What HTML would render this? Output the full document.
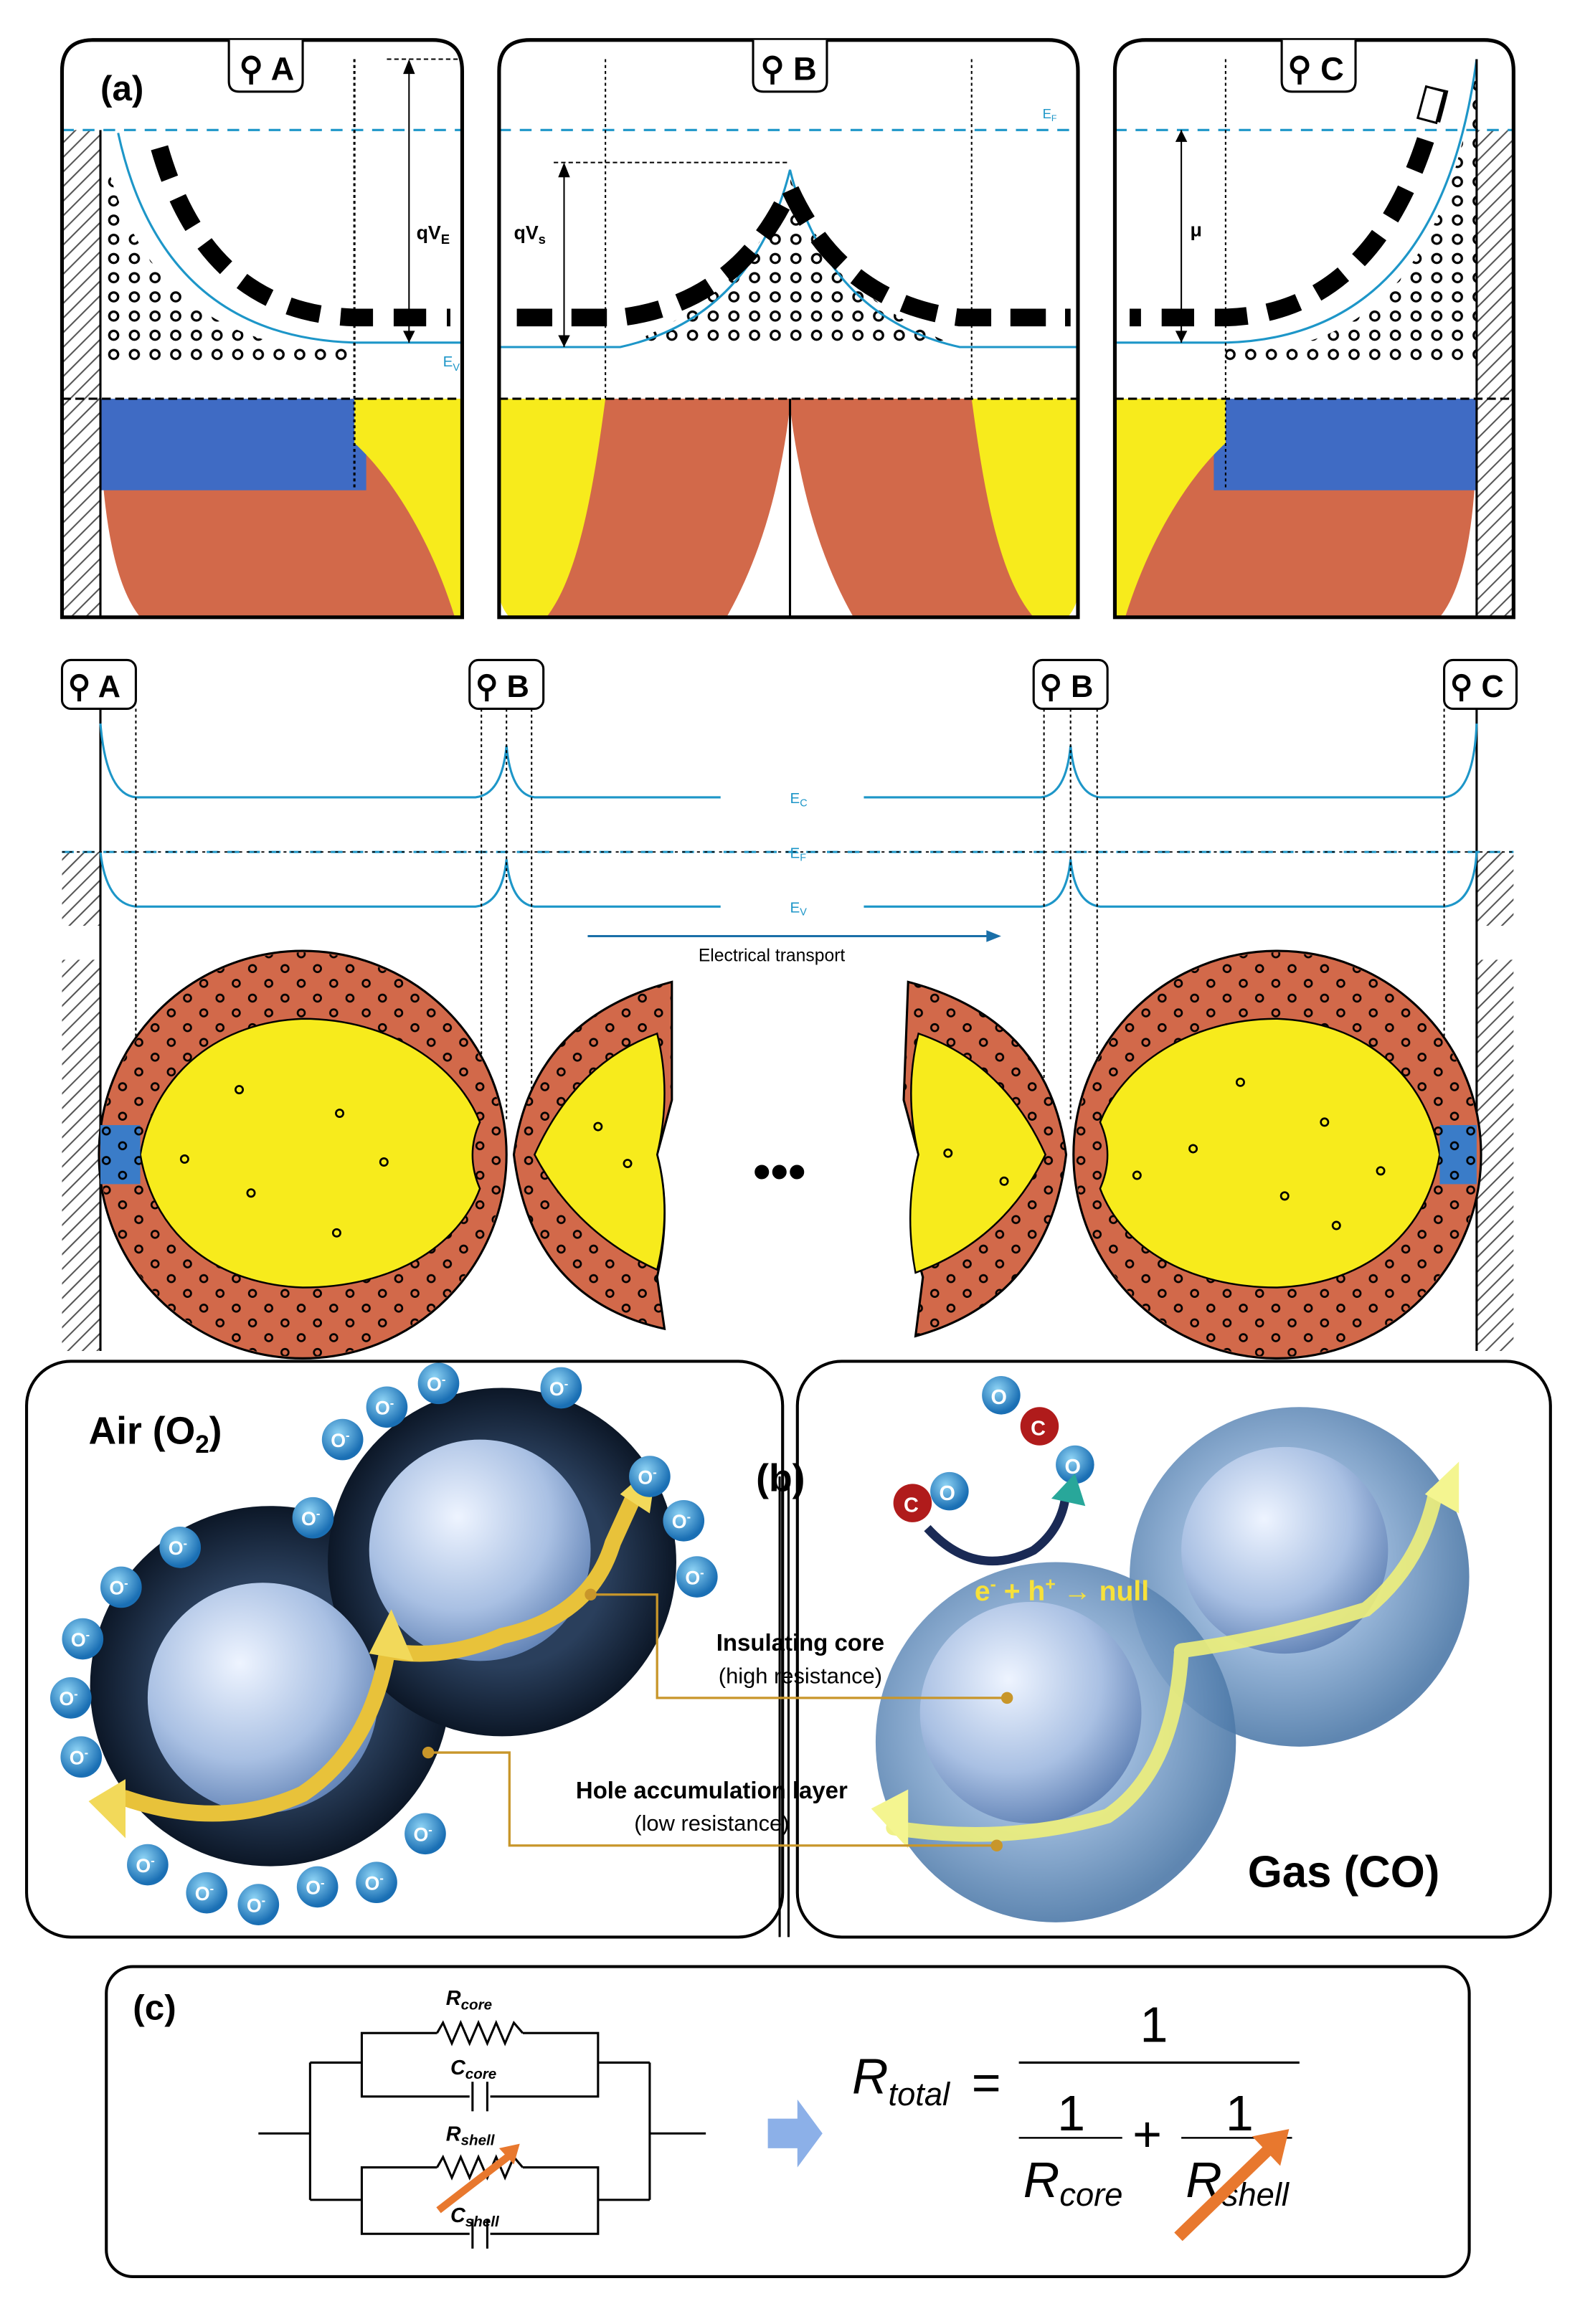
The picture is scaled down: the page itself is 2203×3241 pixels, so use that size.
<!DOCTYPE html>
<html><head><meta charset="utf-8"><style>
html,body{margin:0;padding:0;background:#fff;}
svg{display:block;}
text{font-family:"Liberation Sans",sans-serif;}
</style></head><body>
<svg width="2203" height="3241" viewBox="0 0 1070 1574" xmlns="http://www.w3.org/2000/svg">
<defs>
<pattern id="hatch" width="7" height="7" patternUnits="userSpaceOnUse" patternTransform="rotate(45)">
<rect width="7" height="7" fill="#fff"/><line x1="0" y1="0" x2="0" y2="7" stroke="#555" stroke-width="2"/></pattern>
<pattern id="dots" width="14" height="13" patternUnits="userSpaceOnUse">
<circle cx="7" cy="6" r="3" fill="#fff" stroke="#000" stroke-width="1.6"/></pattern>
<pattern id="dots2" width="22" height="20" patternUnits="userSpaceOnUse">
<circle cx="6" cy="6" r="2.4" fill="none" stroke="#000" stroke-width="1.3"/><circle cx="17" cy="16" r="2.4" fill="none" stroke="#000" stroke-width="1.3"/></pattern>
<radialGradient id="core" cx="0.4" cy="0.35" r="0.7"><stop offset="0" stop-color="#eef4ff"/><stop offset="0.6" stop-color="#a9c0e3"/><stop offset="1" stop-color="#5d7fb3"/></radialGradient>
<radialGradient id="dark" cx="0.5" cy="0.5" r="0.5"><stop offset="0.6" stop-color="#2a3f5c"/><stop offset="1" stop-color="#0c1727"/></radialGradient>
<radialGradient id="shell" cx="0.45" cy="0.45" r="0.55"><stop offset="0.5" stop-color="#8fb0d6"/><stop offset="1" stop-color="#4d79a8"/></radialGradient>
<radialGradient id="ion" cx="0.4" cy="0.35" r="0.6"><stop offset="0" stop-color="#8fd4f5"/><stop offset="1" stop-color="#1a6fb4"/></radialGradient>
</defs>
<rect width="1070" height="1574" fill="#fff"/>

<!-- ===== Box A ===== -->
<g>
<path d="M68,300 H313 V418 H95 Q72,390 68,300 Z" fill="#d2694a"/>
<rect x="68" y="270" width="180" height="62" fill="#3f6bc4"/>
<path d="M240,270 H313 V418 H308 C290,360 262,320 240,300 Z" fill="#f7eb1c"/>
<rect x="42" y="88" width="26" height="330" fill="url(#hatch)"/>
<path d="M68,90 Q90,215 200,235 L240,235 L240,245 L68,245 Z" fill="url(#dots)"/>
<path d="M80,90 Q110,228 240,232 L313,232" fill="none" stroke="#1d96c8" stroke-width="1.5"/>
<path d="M108,100 Q140,212 240,215 L305,215" fill="none" stroke="#000" stroke-width="12" stroke-dasharray="22 14"/>
<line x1="42" y1="88" x2="313" y2="88" stroke="#1d96c8" stroke-width="1.5" stroke-dasharray="8 6"/>
<line x1="42" y1="270" x2="313" y2="270" stroke="#000" stroke-width="1.5" stroke-dasharray="6 3"/>
<line x1="262" y1="40" x2="313" y2="40" stroke="#000" stroke-dasharray="3 2"/>
<line x1="240" y1="40" x2="240" y2="332" stroke="#000" stroke-width="1.5" stroke-dasharray="2 2"/>
<line x1="68" y1="88" x2="68" y2="418" stroke="#000" stroke-width="1.5"/>
<line x1="277" y1="42" x2="277" y2="232" stroke="#000"/>
<path d="M273,50 L277,40 L281,50Z M273,224 L277,232 L281,224Z"/>
<text x="282" y="162" font-size="13" font-weight="bold">qV<tspan font-size="9" dy="3">E</tspan></text>
<text x="300" y="248" font-size="10" fill="#1d96c8">E<tspan font-size="7" dy="3">V</tspan></text>
<path d="M42,418 V48 Q42,27 63,27 H293 Q313,27 313,48 V418 Z" fill="none" stroke="#000" stroke-width="2.5"/>
<path d="M155,27 V55 Q155,62 162,62 H198 Q205,62 205,55 V27" fill="#fff" stroke="#000" stroke-width="1.5"/>
<text x="162" y="54" font-size="22" font-weight="bold">⚲ A</text>
<text x="68" y="68" font-size="24" font-weight="bold">(a)</text>
</g>

<!-- ===== Box B ===== -->
<g>
<path d="M338,270 H730 V400 Q725,418 710,418 H578 Q545,360 535,275 Q525,360 492,418 H358 Q340,415 338,400 Z" fill="#d2694a"/>
<path d="M338,270 H410 C402,330 392,390 370,418 H345 Q338,410 338,400 Z" fill="#f7eb1c"/>
<path d="M730,270 H658 C666,330 676,390 700,418 H723 Q730,410 730,400 Z" fill="#f7eb1c"/>
<line x1="535" y1="270" x2="535" y2="418" stroke="#000" stroke-width="1.5"/>
<path d="M420,235 Q510,200 535,120 Q560,200 650,235 Z" fill="url(#dots)"/>
<path d="M338,235 H420 Q510,215 535,115 Q560,215 650,235 H730" fill="none" stroke="#1d96c8" stroke-width="1.5"/>
<path d="M350,215 H420 Q500,205 535,128 Q570,205 650,215 H725" fill="none" stroke="#000" stroke-width="12" stroke-dasharray="24 13"/>
<line x1="338" y1="88" x2="730" y2="88" stroke="#1d96c8" stroke-width="1.5" stroke-dasharray="8 6"/>
<line x1="338" y1="270" x2="730" y2="270" stroke="#000" stroke-width="1.5" stroke-dasharray="6 3"/>
<line x1="410" y1="40" x2="410" y2="270" stroke="#000" stroke-dasharray="2 2"/>
<line x1="658" y1="40" x2="658" y2="270" stroke="#000" stroke-dasharray="2 2"/>
<line x1="375" y1="110" x2="535" y2="110" stroke="#000" stroke-dasharray="3 2"/>
<line x1="382" y1="112" x2="382" y2="235" stroke="#000"/>
<path d="M378,120 L382,110 L386,120Z M378,227 L382,235 L386,227Z"/>
<text x="348" y="162" font-size="13" font-weight="bold">qV<tspan font-size="9" dy="3">s</tspan></text>
<text x="706" y="80" font-size="9" fill="#1d96c8">E<tspan font-size="6" dy="2">F</tspan></text>
<path d="M338,418 V48 Q338,27 359,27 H710 Q730,27 730,48 V418 Z" fill="none" stroke="#000" stroke-width="2.5"/>
<path d="M510,27 V55 Q510,62 517,62 H553 Q560,62 560,55 V27" fill="#fff" stroke="#000" stroke-width="1.5"/>
<text x="515" y="54" font-size="22" font-weight="bold">⚲ B</text>
</g>

<!-- ===== Box C ===== -->
<g>
<path d="M1000,300 H755 V418 H975 Q998,390 1000,300 Z" fill="#d2694a"/>
<rect x="822" y="270" width="178" height="62" fill="#3f6bc4"/>
<path d="M830,270 H755 V418 H762 C780,360 808,320 830,300 Z" fill="#f7eb1c"/>
<rect x="1000" y="88" width="25" height="330" fill="url(#hatch)"/>
<path d="M1000,40 Q980,215 870,235 L830,235 L830,245 L1000,245 Z" fill="url(#dots)"/>
<path d="M1000,40 Q975,228 830,232 L755,232" fill="none" stroke="#1d96c8" stroke-width="1.5"/>
<path d="M975,60 Q940,212 830,215 L765,215" fill="none" stroke="#000" stroke-width="12" stroke-dasharray="22 14"/>
<rect x="963" y="60" width="13" height="22" fill="#fff" stroke="#000" stroke-width="1.5" transform="rotate(15 970 70)"/>
<line x1="755" y1="88" x2="1025" y2="88" stroke="#1d96c8" stroke-width="1.5" stroke-dasharray="8 6"/>
<line x1="755" y1="270" x2="1025" y2="270" stroke="#000" stroke-width="1.5" stroke-dasharray="6 3"/>
<line x1="830" y1="40" x2="830" y2="332" stroke="#000" stroke-dasharray="2 2"/>
<line x1="1000" y1="40" x2="1000" y2="418" stroke="#000" stroke-width="1.5"/>
<line x1="800" y1="88" x2="800" y2="232" stroke="#000"/>
<path d="M796,96 L800,88 L804,96Z M796,224 L800,232 L804,224Z"/>
<text x="806" y="160" font-size="13" font-weight="bold">μ</text>
<path d="M755,418 V48 Q755,27 776,27 H1005 Q1025,27 1025,48 V418 Z" fill="none" stroke="#000" stroke-width="2.5"/>
<path d="M868,27 V55 Q868,62 875,62 H911 Q918,62 918,55 V27" fill="#fff" stroke="#000" stroke-width="1.5"/>
<text x="872" y="54" font-size="22" font-weight="bold">⚲ C</text>
</g>

<!-- ===== Middle section ===== -->
<g>
<rect x="42" y="577" width="26" height="50" fill="url(#hatch)"/>
<rect x="42" y="650" width="26" height="265" fill="url(#hatch)"/>
<rect x="1000" y="577" width="25" height="50" fill="url(#hatch)"/>
<rect x="1000" y="650" width="25" height="265" fill="url(#hatch)"/>
<line x1="68" y1="470" x2="68" y2="915" stroke="#000" stroke-width="1.5"/>
<line x1="1000" y1="470" x2="1000" y2="915" stroke="#000" stroke-width="1.5"/>
<g fill="none" stroke="#1d96c8" stroke-width="1.5">
<path d="M68,490 Q72,538 92,540 H322 Q340,538 343,505 Q346,538 362,540 H488"/>
<path d="M585,540 H705 Q722,538 725,505 Q728,538 745,540 H978 Q998,538 1000,490"/>
<path d="M68,577 Q72,612 92,614 H322 Q340,612 343,582 Q346,612 362,614 H488"/>
<path d="M585,614 H705 Q722,612 725,582 Q728,612 745,614 H978 Q998,612 1000,577"/>
<line x1="42" y1="577" x2="1025" y2="577" stroke-dasharray="8 6"/>
</g>
<line x1="42" y1="577" x2="1025" y2="577" stroke="#000" stroke-dasharray="2 3" stroke-width="0.8"/>
<text x="535" y="544" font-size="10" fill="#1d96c8">E<tspan font-size="7" dy="2">C</tspan></text>
<text x="535" y="581" font-size="10" fill="#1d96c8">E<tspan font-size="7" dy="2">F</tspan></text>
<text x="535" y="618" font-size="10" fill="#1d96c8">E<tspan font-size="7" dy="2">V</tspan></text>
<line x1="398" y1="634" x2="672" y2="634" stroke="#1a6fa8" stroke-width="1.5"/>
<path d="M668,630 L678,634 L668,638Z" fill="#1a6fa8"/>
<text x="473" y="651" font-size="12">Electrical transport</text>
<g stroke="#000" stroke-dasharray="2 2">
<line x1="92" y1="480" x2="92" y2="760"/>
<line x1="326" y1="480" x2="326" y2="760"/><line x1="343" y1="480" x2="343" y2="760"/><line x1="360" y1="480" x2="360" y2="760"/>
<line x1="707" y1="480" x2="707" y2="760"/><line x1="725" y1="480" x2="725" y2="760"/><line x1="743" y1="480" x2="743" y2="760"/>
<line x1="978" y1="480" x2="978" y2="760"/>
</g>
<!-- left big grain -->
<circle cx="205" cy="782" r="138" fill="#d2694a" stroke="#000" stroke-width="1.5"/>
<circle cx="205" cy="782" r="137" fill="url(#dots2)"/>
<path d="M95,782 C105,725 150,692 205,690 C265,690 310,722 325,760 Q315,782 325,805 C310,845 265,872 205,872 C150,870 105,840 95,782 Z" fill="#f7eb1c" stroke="#000" stroke-width="1.2"/>
<rect x="68" y="762" width="27" height="40" fill="#3a7cc8"/>
<rect x="68" y="762" width="27" height="40" fill="url(#dots2)"/>
<g fill="none" stroke="#000" stroke-width="1.3"><circle cx="162" cy="738" r="2.5"/><circle cx="230" cy="754" r="2.5"/><circle cx="125" cy="785" r="2.5"/><circle cx="260" cy="787" r="2.5"/><circle cx="170" cy="808" r="2.5"/><circle cx="228" cy="835" r="2.5"/></g>
<!-- partial grains -->
<path d="M455,665 Q360,690 348,782 Q360,880 450,900 L445,865 Q455,820 445,782 L455,745 Z" fill="#d2694a" stroke="#000" stroke-width="1.5"/>
<path d="M455,665 Q360,690 348,782 Q360,880 450,900 L445,865 Q455,820 445,782 L455,745 Z" fill="url(#dots2)"/>
<path d="M445,700 Q390,720 362,782 Q390,835 445,860 Q455,820 445,782 Q455,740 445,700 Z" fill="#f7eb1c" stroke="#000" stroke-width="1.2"/>
<path d="M615,665 Q710,690 722,782 Q710,880 620,905 L625,865 Q612,820 622,782 L612,745 Z" fill="#d2694a" stroke="#000" stroke-width="1.5"/>
<path d="M615,665 Q710,690 722,782 Q710,880 620,905 L625,865 Q612,820 622,782 L612,745 Z" fill="url(#dots2)"/>
<path d="M622,700 Q680,720 708,782 Q680,840 620,862 Q612,820 622,782 Q612,740 622,700 Z" fill="#f7eb1c" stroke="#000" stroke-width="1.2"/>
<g fill="none" stroke="#000" stroke-width="1.3"><circle cx="405" cy="763" r="2.5"/><circle cx="425" cy="788" r="2.5"/><circle cx="642" cy="781" r="2.5"/><circle cx="680" cy="800" r="2.5"/></g>
<text x="510" y="805" font-size="34" font-weight="bold">•••</text>
<!-- right big grain -->
<circle cx="865" cy="782" r="138" fill="#d2694a" stroke="#000" stroke-width="1.5"/>
<circle cx="865" cy="782" r="137" fill="url(#dots2)"/>
<path d="M975,782 C965,725 920,692 865,690 C805,690 760,722 745,760 Q755,782 745,805 C760,845 805,872 865,872 C920,870 965,840 975,782 Z" fill="#f7eb1c" stroke="#000" stroke-width="1.2"/>
<rect x="975" y="762" width="25" height="40" fill="#3a7cc8"/>
<rect x="975" y="762" width="25" height="40" fill="url(#dots2)"/>
<g fill="none" stroke="#000" stroke-width="1.3"><circle cx="840" cy="733" r="2.5"/><circle cx="808" cy="778" r="2.5"/><circle cx="897" cy="760" r="2.5"/><circle cx="770" cy="796" r="2.5"/><circle cx="870" cy="810" r="2.5"/><circle cx="905" cy="830" r="2.5"/><circle cx="935" cy="793" r="2.5"/></g>
<!-- tabs -->
<g fill="#fff" stroke="#000" stroke-width="1.5">
<rect x="42" y="447" width="50" height="33" rx="6"/><rect x="318" y="447" width="50" height="33" rx="6"/>
<rect x="700" y="447" width="50" height="33" rx="6"/><rect x="978" y="447" width="49" height="33" rx="6"/></g>
<g font-size="21" font-weight="bold"><text x="46" y="472">⚲ A</text><text x="322" y="472">⚲ B</text><text x="704" y="472">⚲ B</text><text x="982" y="472">⚲ C</text></g>
</g>

<!-- ===== Panel (b) ===== -->
<g>
<rect x="18" y="922" width="512" height="390" rx="30" fill="#fff" stroke="#000" stroke-width="2"/>
<rect x="540" y="922" width="510" height="390" rx="30" fill="#fff" stroke="#000" stroke-width="2"/>
<line x1="528" y1="1000" x2="528" y2="1312" stroke="#000" stroke-width="1.5"/>
<line x1="534" y1="1000" x2="534" y2="1312" stroke="#000" stroke-width="1.5"/>
<text x="60" y="978" font-size="26" font-weight="bold">Air (O<tspan font-size="17" dy="6">2</tspan><tspan dy="-6">)</tspan></text>
<text x="512" y="1010" font-size="26" font-weight="bold">(b)</text>
<!-- left spheres -->
<circle cx="183" cy="1142" r="122" fill="url(#dark)"/>
<circle cx="340" cy="1058" r="118" fill="url(#dark)"/>
<circle cx="178" cy="1150" r="78" fill="url(#core)"/>
<circle cx="325" cy="1050" r="75" fill="url(#core)"/>
<g fill="none" stroke="#e8c23a" stroke-width="11" stroke-linecap="round">
<path d="M85,1218 Q150,1240 205,1215 Q250,1185 262,1120"/>
<path d="M262,1118 Q300,1125 340,1108 Q400,1095 415,1045 L430,1012"/>
</g>
<g fill="#f2d95a"><path d="M250,1120 L265,1090 L280,1125Z"/><path d="M420,1012 L445,990 L440,1025Z"/><path d="M60,1220 L85,1205 L85,1245Z"/></g>
<g font-size="13" font-weight="bold" fill="#fff">
<circle cx="297" cy="937" r="14" fill="url(#ion)"/><text x="289" y="942">O<tspan font-size="8" dy="-5">-</tspan></text>
<circle cx="380" cy="940" r="14" fill="url(#ion)"/><text x="372" y="945">O<tspan font-size="8" dy="-5">-</tspan></text>
<circle cx="262" cy="953" r="14" fill="url(#ion)"/><text x="254" y="958">O<tspan font-size="8" dy="-5">-</tspan></text>
<circle cx="232" cy="975" r="14" fill="url(#ion)"/><text x="224" y="980">O<tspan font-size="8" dy="-5">-</tspan></text>
<circle cx="212" cy="1028" r="14" fill="url(#ion)"/><text x="204" y="1033">O<tspan font-size="8" dy="-5">-</tspan></text>
<circle cx="122" cy="1048" r="14" fill="url(#ion)"/><text x="114" y="1053">O<tspan font-size="8" dy="-5">-</tspan></text>
<circle cx="82" cy="1075" r="14" fill="url(#ion)"/><text x="74" y="1080">O<tspan font-size="8" dy="-5">-</tspan></text>
<circle cx="56" cy="1110" r="14" fill="url(#ion)"/><text x="48" y="1115">O<tspan font-size="8" dy="-5">-</tspan></text>
<circle cx="48" cy="1150" r="14" fill="url(#ion)"/><text x="40" y="1155">O<tspan font-size="8" dy="-5">-</tspan></text>
<circle cx="55" cy="1190" r="14" fill="url(#ion)"/><text x="47" y="1195">O<tspan font-size="8" dy="-5">-</tspan></text>
<circle cx="100" cy="1263" r="14" fill="url(#ion)"/><text x="92" y="1268">O<tspan font-size="8" dy="-5">-</tspan></text>
<circle cx="140" cy="1282" r="14" fill="url(#ion)"/><text x="132" y="1287">O<tspan font-size="8" dy="-5">-</tspan></text>
<circle cx="175" cy="1290" r="14" fill="url(#ion)"/><text x="167" y="1295">O<tspan font-size="8" dy="-5">-</tspan></text>
<circle cx="215" cy="1278" r="14" fill="url(#ion)"/><text x="207" y="1283">O<tspan font-size="8" dy="-5">-</tspan></text>
<circle cx="255" cy="1275" r="14" fill="url(#ion)"/><text x="247" y="1280">O<tspan font-size="8" dy="-5">-</tspan></text>
<circle cx="288" cy="1242" r="14" fill="url(#ion)"/><text x="280" y="1247">O<tspan font-size="8" dy="-5">-</tspan></text>
<circle cx="440" cy="1000" r="14" fill="url(#ion)"/><text x="432" y="1005">O<tspan font-size="8" dy="-5">-</tspan></text>
<circle cx="463" cy="1030" r="14" fill="url(#ion)"/><text x="455" y="1035">O<tspan font-size="8" dy="-5">-</tspan></text>
<circle cx="472" cy="1068" r="14" fill="url(#ion)"/><text x="464" y="1073">O<tspan font-size="8" dy="-5">-</tspan></text>
</g>
<!-- right spheres -->
<circle cx="880" cy="1068" r="115" fill="url(#shell)" opacity="0.9"/>
<circle cx="715" cy="1180" r="122" fill="url(#shell)" opacity="0.9"/>
<circle cx="870" cy="1050" r="70" fill="url(#core)"/>
<circle cx="698" cy="1160" r="75" fill="url(#core)"/>
<g fill="none" stroke="#eef07a" stroke-width="10" stroke-linecap="round" opacity="0.9">
<path d="M605,1238 Q680,1250 750,1230 Q795,1200 800,1120"/>
<path d="M800,1118 Q860,1110 925,1090 Q962,1060 972,1012"/>
</g>
<g fill="#f4f590"><path d="M590,1225 L615,1212 L615,1252Z"/><path d="M965,1012 L988,990 L988,1025Z"/></g>
<circle cx="618" cy="1018" r="13" fill="#b01b1b"/><text x="612" y="1024" font-size="14" font-weight="bold" fill="#fff">C</text>
<circle cx="643" cy="1010" r="13" fill="url(#ion)"/><text x="636" y="1016" font-size="14" font-weight="bold" fill="#fff">O</text>
<circle cx="678" cy="945" r="13" fill="url(#ion)"/><text x="671" y="951" font-size="14" font-weight="bold" fill="#fff">O</text>
<circle cx="704" cy="966" r="13" fill="#b01b1b"/><text x="698" y="972" font-size="14" font-weight="bold" fill="#fff">C</text>
<circle cx="728" cy="992" r="13" fill="url(#ion)"/><text x="721" y="998" font-size="14" font-weight="bold" fill="#fff">O</text>
<path d="M628,1035 Q660,1070 700,1050 Q720,1035 722,1010" fill="none" stroke="#1a2a55" stroke-width="6"/>
<path d="M712,1015 L728,998 L735,1020Z" fill="#28a79a"/>
<text x="660" y="1084" font-size="19" font-weight="bold" fill="#f7e13a">e<tspan font-size="12" dy="-7">-</tspan><tspan dy="7"> + h</tspan><tspan font-size="12" dy="-7">+</tspan><tspan dy="7"> → null</tspan></text>
<g fill="none" stroke="#c8962a" stroke-width="1.6">
<polyline points="400,1080 445,1080 445,1150 682,1150"/>
<polyline points="290,1187 345,1187 345,1250 675,1250"/>
</g>
<circle cx="400" cy="1080" r="4" fill="#c8962a"/><circle cx="682" cy="1150" r="4" fill="#c8962a"/>
<circle cx="290" cy="1187" r="4" fill="#c8962a"/><circle cx="675" cy="1250" r="4" fill="#c8962a"/>
<text x="542" y="1118" font-size="16" font-weight="bold" text-anchor="middle">Insulating core</text>
<text x="542" y="1140" font-size="15" text-anchor="middle">(high resistance)</text>
<text x="482" y="1218" font-size="16" font-weight="bold" text-anchor="middle">Hole accumulation layer</text>
<text x="482" y="1240" font-size="15" text-anchor="middle">(low resistance)</text>
<text x="845" y="1278" font-size="30" font-weight="bold">Gas (CO)</text>
</g>

<!-- ===== Panel (c) ===== -->
<g>
<rect x="72" y="1332" width="923" height="210" rx="18" fill="#fff" stroke="#000" stroke-width="2"/>
<text x="90" y="1368" font-size="24" font-weight="bold">(c)</text>
<g fill="none" stroke="#000" stroke-width="1.5">
<polyline points="175,1445 210,1445"/>
<polyline points="210,1397 210,1490"/>
<polyline points="440,1397 440,1490"/>
<polyline points="440,1445 478,1445"/>
<polyline points="210,1397 245,1397"/><polyline points="405,1397 440,1397"/>
<polyline points="210,1490 245,1490"/><polyline points="405,1490 440,1490"/>
<rect x="245" y="1377" width="160" height="43"/>
<rect x="245" y="1468" width="160" height="45"/>
</g>
<g stroke="#000" stroke-width="1.5">
<rect x="296" y="1370" width="58" height="14" fill="#fff" stroke="none"/>
<polyline fill="none" points="296,1377 300,1370 306,1384 312,1370 318,1384 324,1370 330,1384 336,1370 342,1384 348,1370 354,1377"/>
<rect x="318" y="1410" width="14" height="20" fill="#fff" stroke="none"/>
<line x1="320" y1="1410" x2="320" y2="1430"/><line x1="330" y1="1410" x2="330" y2="1430"/>
<rect x="296" y="1461" width="58" height="14" fill="#fff" stroke="none"/>
<polyline fill="none" points="296,1468 300,1461 306,1475 312,1461 318,1475 324,1461 330,1475 336,1461 342,1475 348,1461 354,1468"/>
<rect x="318" y="1503" width="14" height="20" fill="#fff" stroke="none"/>
<line x1="320" y1="1503" x2="320" y2="1523"/><line x1="330" y1="1503" x2="330" y2="1523"/>
</g>
<line x1="297" y1="1497" x2="345" y2="1460" stroke="#e8782e" stroke-width="5"/>
<path d="M338,1455 L352,1452 L348,1466Z" fill="#e8782e"/>
<g font-size="14" font-weight="bold" font-style="italic">
<text x="302" y="1358">R<tspan font-size="10" dy="3">core</tspan></text>
<text x="305" y="1405">C<tspan font-size="10" dy="3">core</tspan></text>
<text x="302" y="1450">R<tspan font-size="10" dy="3">shell</tspan></text>
<text x="305" y="1505">C<tspan font-size="10" dy="3">shell</tspan></text>
</g>
<path d="M520,1435 H540 V1422 L557,1445 L540,1468 V1455 H520 Z" fill="#8cb0e8"/>
<g font-family="Liberation Serif,serif" font-size="34">
<text x="577" y="1418" font-style="italic">R<tspan font-size="22" dy="8">total</tspan></text>
<text x="658" y="1422">=</text>
<text x="772" y="1383">1</text>
<line x1="690" y1="1397" x2="880" y2="1397" stroke="#000" stroke-width="1.5"/>
<text x="716" y="1443">1</text>
<line x1="690" y1="1448" x2="760" y2="1448" stroke="#000" stroke-width="1.2"/>
<text x="693" y="1488" font-style="italic">R<tspan font-size="22" dy="6">core</tspan></text>
<text x="767" y="1457">+</text>
<text x="830" y="1443">1</text>
<line x1="800" y1="1448" x2="875" y2="1448" stroke="#000" stroke-width="1.2"/>
<text x="803" y="1488" font-style="italic">R<tspan font-size="22" dy="6">shell</tspan></text>
</g>
<line x1="798" y1="1515" x2="860" y2="1455" stroke="#e8782e" stroke-width="8"/>
<path d="M848,1447 L873,1442 L867,1467Z" fill="#e8782e"/>
</g>
</svg>
</body></html>
